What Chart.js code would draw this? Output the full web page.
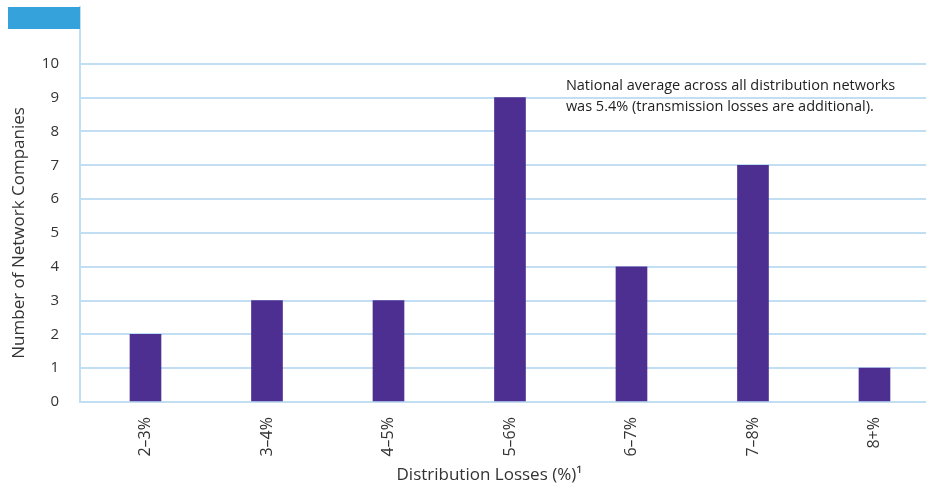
<!DOCTYPE html>
<html>
<head>
<meta charset="utf-8">
<script src="https://cdn.jsdelivr.net/npm/chart.js@4"></script>
<style>
  html, body { margin: 0; padding: 0; background: #ffffff; overflow: hidden; }
  #wrap { position: relative; width: 926px; height: 490px; }
  #tab { position: absolute; left: 8px; top: 7px; width: 72px; height: 22px; background: #35a2dc; }
  canvas { display: block; }
</style>
</head>
<body>
<div id="wrap">
  <canvas id="chart" width="926" height="490"></canvas>
  <div id="tab"></div>
</div>
<script>
// Number of distribution network companies by loss band
const categories = ['2–3%', '3–4%', '4–5%', '5–6%', '6–7%', '7–8%', '8+%'];
const companies = [2, 3, 3, 9, 4, 7, 1];
const yTicks = [0, 1, 2, 3, 4, 5, 6, 7, 8, 9, 10];
const xTitle = 'Distribution Losses (%)¹';
const yTitle = 'Number of Network Companies';
const noteLines = [
  'National average across all distribution networks',
  'was 5.4% (transmission losses are additional).'
];

const gridBlue = '#c2def3';
const textDark = '#333333';
const barPurple = '#4d2f92';
const fontFamily = '"Open Sans", sans-serif';

const points = companies.map((v, i) => ({ x: i, y: v }));

// Axis titles and the note, placed against the scales
const textPlugin = {
  id: 'texts',
  afterDraw(chart) {
    const { ctx, scales } = chart;
    ctx.save();
    ctx.textBaseline = 'middle';

    // note near the top right
    const nx = scales.x.getPixelForValue(3.46);
    const ny = scales.y.getPixelForValue(9.35);
    ctx.fillStyle = '#222222';
    ctx.font = '14.5px ' + fontFamily;
    ctx.textAlign = 'left';
    noteLines.forEach((t, i) => ctx.fillText(t, nx, ny + i * 21));

    // x axis title
    ctx.fillStyle = textDark;
    ctx.font = '17px ' + fontFamily;
    ctx.textAlign = 'center';
    ctx.fillText(xTitle, scales.x.getPixelForValue(2.83), 475);

    // y axis title, rotated
    ctx.translate(19, scales.y.getPixelForValue(5.0));
    ctx.rotate(-Math.PI / 2);
    ctx.fillText(yTitle, 0, 0);
    ctx.restore();
  }
};

new Chart(document.getElementById('chart'), {
  type: 'bar',
  data: {
    datasets: [{
      data: points,
      backgroundColor: barPurple,
      barThickness: 31,
      borderWidth: 0
    }]
  },
  options: {
    responsive: false,
    animation: false,
    layout: { padding: { top: 7, right: 0, left: 0, bottom: 0 } },
    plugins: { legend: { display: false }, tooltip: { enabled: false } },
    scales: {
      x: {
        type: 'linear',
        offset: false,
        min: -0.539,
        max: 6.424,
        afterFit(s) { s.height = 88; s.paddingLeft = 0; s.paddingRight = 0; },
        afterBuildTicks(s) { s.ticks = categories.map((c, i) => ({ value: i })); },
        grid: { display: false },
        border: { display: true, color: gridBlue, width: 2 },
        ticks: {
          autoSkip: false,
          minRotation: 90,
          maxRotation: 90,
          padding: 7,
          color: textDark,
          font: { family: fontFamily, size: 16 },
          callback: (v) => categories[v]
        }
      },
      y: {
        min: 0,
        max: 11.68,
        afterFit(s) { s.width = 80; s.paddingTop = 0; s.paddingBottom = 0; },
        afterBuildTicks(s) { s.ticks = yTicks.map(v => ({ value: v })); },
        grid: { color: gridBlue, lineWidth: 2, drawTicks: false },
        border: { display: true, color: gridBlue, width: 2 },
        ticks: {
          padding: 21,
          color: textDark,
          font: { family: fontFamily, size: 15 }
        }
      }
    }
  },
  plugins: [textPlugin]
});
</script>
</body>
</html>
